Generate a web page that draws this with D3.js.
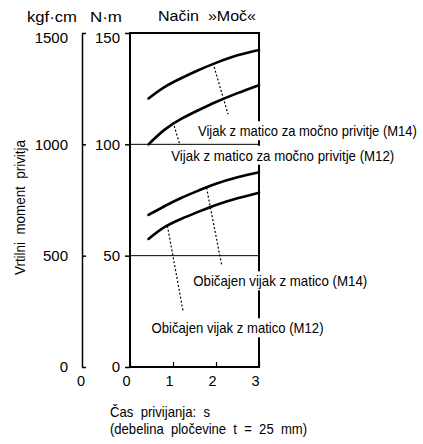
<!DOCTYPE html>
<html><head><meta charset="utf-8">
<script src="https://cdn.jsdelivr.net/npm/d3@7"></script>
<style>
body{margin:0;background:#fff;}
svg{display:block;}
text{font-family:"Liberation Sans",Arial,Helvetica,sans-serif;fill:#000;}
</style></head>
<body>
<script>
// ---- data ----
const xTicks = [0, 1, 2, 3];
const nmTicks = [0, 50, 100, 150];
const kgfTicks = [0, 500, 1000, 1500];
const gridValues = [50, 100];
const seriesNames = [
  "Vijak z matico za močno privitje (M14)",
  "Vijak z matico za močno privitje (M12)",
  "Običajen vijak z matico (M14)",
  "Običajen vijak z matico (M12)"
];
const timeS = [0.43, 0.8, 1.2, 1.6, 2.0, 2.5, 3.0];
const powerM14 = [120.6, 125.7, 129.8, 133.4, 136.6, 140.0, 142.4];
const powerM12 = [100.0, 106.5, 111.5, 115.4, 119.0, 123.0, 126.6];
const normalM14 = [68.3, 72.2, 76.0, 79.3, 82.3, 85.2, 87.5];
const normalM12 = [57.5, 62.8, 66.6, 69.8, 72.8, 75.8, 78.3];
// leader lines: [x1, y1, x2, y2] in (s, N·m)
const leaders = [
  [1.93, 136.5, 2.28, 113.5],
  [1.00, 110.0, 1.16, 99.8],
  [1.78, 80.5, 2.13, 46.0],
  [0.87, 63.4, 1.24, 24.5]
];
// label anchors: [x-left in s, y-centre in N·m]
const labelPos = [
  [1.58, 106.0],
  [0.96, 95.0],
  [1.47, 38.6],
  [0.50, 17.5]
];
const labelWidths = [219, 223, 174, 172];
const titleText = "Način  »Moč«";
const unitKgf = "kgf·cm";
const unitNm = "N·m";
const yTitle = "Vrtilni  moment  privitja";
const xTitle1 = "Čas  privijanja:  s";
const xTitle2 = "(debelina  pločevine  t  =  25  mm)";

// ---- chart ----
const W = 423, H = 444;
const svg = d3.select("body").append("svg").attr("width", W).attr("height", H);
const x = d3.scaleLinear().domain([0, 3]).range([130, 259]);
const y = d3.scaleLinear().domain([0, 150]).range([367, 33]);
const yk = d3.scaleLinear().domain([0, 1500]).range([367, 33]);

function fit(sel, len) {
  return sel.attr("textLength", len).attr("lengthAdjust", "spacingAndGlyphs")
    .style("white-space", "pre");
}

// grid lines
svg.append("g").selectAll("line").data(gridValues).join("line")
  .attr("x1", x(0)).attr("x2", x(3))
  .attr("y1", d => y(d)).attr("y2", d => y(d))
  .attr("stroke", "#000").attr("stroke-width", 1);

// frame
svg.append("rect").attr("x", x(0)).attr("y", y(150))
  .attr("width", x(3) - x(0)).attr("height", y(0) - y(150))
  .attr("fill", "none").attr("stroke", "#000").attr("stroke-width", 2);

// N·m axis
const gNm = svg.append("g").attr("transform", `translate(${x(0)},0)`)
  .call(d3.axisLeft(y).tickValues(nmTicks).tickSizeInner(5).tickSizeOuter(0).tickPadding(5).tickFormat(d3.format("d")));
gNm.select(".domain").remove();
gNm.selectAll("line").attr("stroke-width", 1.5);
gNm.selectAll("text").attr("font-size", 15).attr("font-family", null).attr("fill", null)
  .attr("dy", d => d === 150 ? "0.62em" : "0.33em");

// kgf axis
const gK = svg.append("g").attr("transform", `translate(82,0)`)
  .call(d3.axisLeft(yk).tickValues(kgfTicks).tickSizeInner(-4).tickSizeOuter(0).tickPadding(14).tickFormat(d3.format("d")));
gK.select(".domain").attr("stroke-width", 1.5);
gK.selectAll("line").attr("stroke-width", 1.5);
gK.selectAll("text").attr("font-size", 15).attr("font-family", null).attr("fill", null)
  .attr("dy", d => d === 1500 ? "0.62em" : "0.33em");

// x axis
const gX = svg.append("g").attr("transform", `translate(0,${y(0)})`)
  .call(d3.axisBottom(x).tickValues(xTicks).tickSizeInner(-5).tickSizeOuter(0).tickPadding(9).tickFormat(d3.format("d")));
gX.select(".domain").remove();
gX.selectAll("line").attr("stroke-width", 1.2);
gX.selectAll("text").attr("font-size", 14.5).attr("font-family", null).attr("fill", null).attr("dx", -4);
// zero under kgf axis
svg.append("text").attr("font-size", 14.5)
  .attr("x", 81).attr("y", 386).attr("text-anchor", "middle").text(xTicks[0]);

// curves
const series = [powerM14, powerM12, normalM14, normalM12];
const line = d3.line().x(d => x(d[0])).y(d => y(d[1])).curve(d3.curveNatural);
svg.append("g").selectAll("path").data(series).join("path")
  .attr("d", s => line(timeS.map((t, i) => [t, s[i]])))
  .attr("fill", "none").attr("stroke", "#000").attr("stroke-width", 2.6).attr("stroke-linecap", "round");

// leaders
svg.append("g").selectAll("line").data(leaders).join("line")
  .attr("x1", d => x(d[0])).attr("y1", d => y(d[1]))
  .attr("x2", d => x(d[2])).attr("y2", d => y(d[3]))
  .attr("stroke", "#000").attr("stroke-width", 1.2).attr("stroke-dasharray", "2,2");

// labels with white background
const gL = svg.append("g");
seriesNames.forEach((name, i) => {
  const g = gL.append("g");
  const bg = g.append("rect").attr("fill", "#fff");
  const t = g.append("text").attr("font-size", 15)
    .attr("x", x(labelPos[i][0])).attr("y", y(labelPos[i][1]))
    .attr("dy", "0.35em").text(name);
  fit(t, labelWidths[i]);
  const b = t.node().getBBox();
  bg.attr("x", b.x - 2).attr("y", b.y - 1).attr("width", b.width + 4).attr("height", b.height + 2);
});

// header texts
fit(svg.append("text").attr("font-size", 15.5).attr("x", 27).attr("y", 22).text(unitKgf), 50);
fit(svg.append("text").attr("font-size", 15.5).attr("x", 90).attr("y", 22).text(unitNm), 32);
fit(svg.append("text").attr("font-size", 14.5).attr("x", 158).attr("y", 21).text(titleText), 98);

// y title
fit(svg.append("text").attr("font-size", 14)
  .attr("transform", "translate(25,275) rotate(-90)").text(yTitle), 135);

// x title
fit(svg.append("text").attr("font-size", 15).attr("x", 110).attr("y", 417).text(xTitle1), 100);
fit(svg.append("text").attr("font-size", 15).attr("x", 110).attr("y", 434).text(xTitle2), 197);
</script>
</body></html>
